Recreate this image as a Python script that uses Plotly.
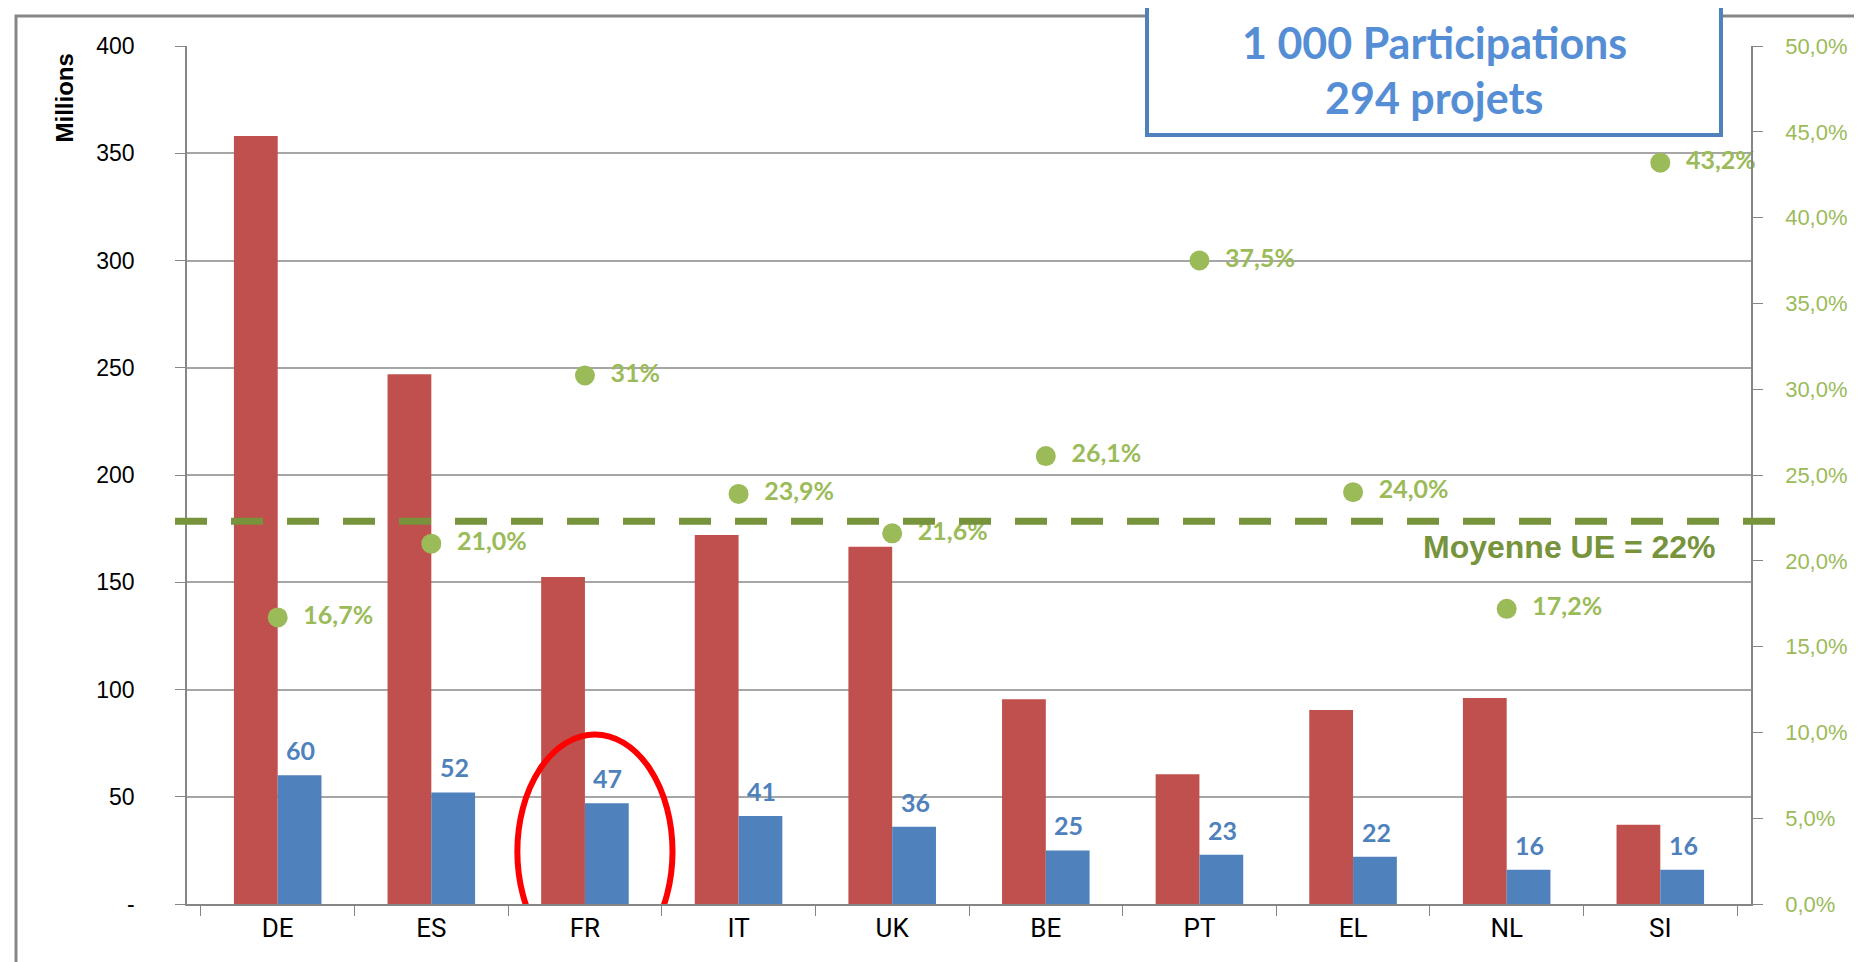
import plotly.graph_objects as go

# ---------------- data ----------------
categories = ["DE", "ES", "FR", "IT", "UK", "BE", "PT", "EL", "NL", "SI"]
budget_total = [358, 247, 152.5, 172, 166.5, 95.5, 60.5, 90.5, 96, 37]      # red bars (Millions)
budget_obtained = [60, 52, 47, 41, 36, 25, 23, 22, 16, 16]                  # blue bars (Millions)
blue_labels = ["60", "52", "47", "41", "36", "25", "23", "22", "16", "16"]
success_rate = [16.7, 21.0, 30.8, 23.9, 21.6, 26.1, 37.5, 24.0, 17.2, 43.2]  # green dots (%)
rate_labels = ["16,7%", "21,0%", "31%", "23,9%", "21,6%", "26,1%", "37,5%", "24,0%", "17,2%", "43,2%"]
eu_mean = 22.3
left_ticks = [0, 50, 100, 150, 200, 250, 300, 350, 400]
left_ticktext = ["-", "50", "100", "150", "200", "250", "300", "350", "400"]
right_ticks = [0, 5, 10, 15, 20, 25, 30, 35, 40, 45, 50]
right_ticktext = ["0,0%", "5,0%", "10,0%", "15,0%", "20,0%", "25,0%", "30,0%",
                  "35,0%", "40,0%", "45,0%", "50,0%"]
box_lines = ["1 000 Participations", "294 projets"]
mean_label = "Moyenne UE = 22%"

RED = "#C0504D"
BLUE = "#4F81BD"
GREEN = "#9BBB59"
DARKGREEN = "#77933C"
GRID = "#A6A6A6"

W, H = 1862, 962
L, R, T, B = 179, 119, 38, 66
pw = W - L - R
ph = H - T - B


def px_to_paper_y(p):
    return (H - B - p) / ph


def px_to_paper_x(p):
    return (p - L) / pw


fig = go.Figure()
fig.add_trace(go.Bar(x=categories, y=budget_total, marker_color=RED,
                     marker_line_width=0, name="total"))
fig.add_trace(go.Bar(x=categories, y=budget_obtained, marker_color=BLUE,
                     marker_line_width=0, name="obtained"))
fig.add_trace(go.Scatter(x=categories, y=success_rate, yaxis="y2", mode="markers+text",
                         marker=dict(color=GREEN, size=20),
                         text=["\u00a0\u00a0" + t for t in rate_labels],
                         textposition="middle right",
                         textfont=dict(family="Lato", size=25, color=GREEN, weight="bold"),
                         cliponaxis=False, name="rate"))

annotations = []
for c, v, t in zip(categories, budget_obtained, blue_labels):
    annotations.append(dict(x=c, y=v, xref="x", yref="y", text="<b>%s</b>" % t,
                            showarrow=False, xshift=23, yanchor="bottom", yshift=8,
                            font=dict(family="Lato", size=25, color=BLUE)))

annotations.append(dict(x=px_to_paper_x(1710), xref="paper", y=eu_mean, yref="y2",
                        xanchor="right", yanchor="top", yshift=-6, showarrow=False,
                        text="<b>%s</b>" % mean_label,
                        font=dict(family="Liberation Sans", size=32, color=DARKGREEN)))

annotations.append(dict(x=px_to_paper_x(1426), xref="paper", y=px_to_paper_y(35),
                        yref="paper", xanchor="center", yanchor="middle",
                        showarrow=False, text="<b>%s</b>" % box_lines[0],
                        font=dict(family="Lato", size=43, color="#558ED5")))
annotations.append(dict(x=px_to_paper_x(1426), xref="paper", y=px_to_paper_y(90),
                        yref="paper", xanchor="center", yanchor="middle",
                        showarrow=False, text="<b>%s</b>" % box_lines[1],
                        font=dict(family="Lato", size=43, color="#558ED5")))

annotations.append(dict(x=px_to_paper_x(56), xref="paper", y=px_to_paper_y(44),
                        yref="paper", textangle=-90,
                        xanchor="center", yanchor="top", showarrow=False,
                        text="<b>Millions</b>",
                        font=dict(family="Liberation Sans", size=24, color="black")))

shapes = [
    # outer chart frame
    dict(type="rect", xref="paper", yref="paper",
         x0=px_to_paper_x(8), x1=px_to_paper_x(1859), y0=px_to_paper_y(990),
         y1=px_to_paper_y(8),
         line=dict(color="#878787", width=3), fillcolor="rgba(0,0,0,0)", layer="below"),
    # EU average dashed line
    dict(type="line", xref="paper", yref="y2", x0=px_to_paper_x(167), x1=px_to_paper_x(1767),
         y0=eu_mean, y1=eu_mean, line=dict(color=DARKGREEN, width=7, dash="32px,24px")),
    # info box
    dict(type="rect", xref="paper", yref="paper",
         x0=px_to_paper_x(1139), x1=px_to_paper_x(1713), y0=px_to_paper_y(127),
         y1=px_to_paper_y(-30),
         line=dict(color=BLUE, width=4), fillcolor="white"),
    # red highlight ellipse around FR
    dict(type="circle", xref="x", yref="y", x0=1.56, x1=2.57, y0=-30, y1=79,
         line=dict(color="#FF0000", width=6)),
]

fig.update_layout(
    width=W, height=H,
    margin=dict(l=L, r=R, t=T, b=B),
    paper_bgcolor="white", plot_bgcolor="white",
    barmode="group", bargap=0.43, bargroupgap=0,
    showlegend=False,
    annotations=annotations, shapes=shapes,
    xaxis=dict(type="category", showline=True, linecolor="#868686", linewidth=1.5,
               ticks="outside", tickson="boundaries", ticklen=10, tickcolor="#868686",
               tickfont=dict(family="Liberation Sans Narrow, Roboto", size=26, color="black"),
               showgrid=False, zeroline=False),
    yaxis=dict(range=[0, 400], tickvals=left_ticks, ticktext=left_ticktext,
               showline=True, linecolor="#868686", linewidth=1.5,
               ticks="outside", ticklen=10, tickcolor="#868686", ticklabelstandoff=36,
               tickfont=dict(family="Liberation Sans", size=23, color="black"),
               showgrid=True, gridcolor=GRID, gridwidth=1.5, zeroline=False),
    yaxis2=dict(range=[0, 50], overlaying="y", side="right", tickvals=right_ticks,
                ticktext=right_ticktext, showline=True, linecolor="#868686", linewidth=1.5,
                ticks="outside", ticklen=10, tickcolor="#868686", ticklabelstandoff=18,
                tickfont=dict(family="Liberation Sans", size=22, color=GREEN),
                showgrid=False, zeroline=False),
)

fig.write_html("out.html")
